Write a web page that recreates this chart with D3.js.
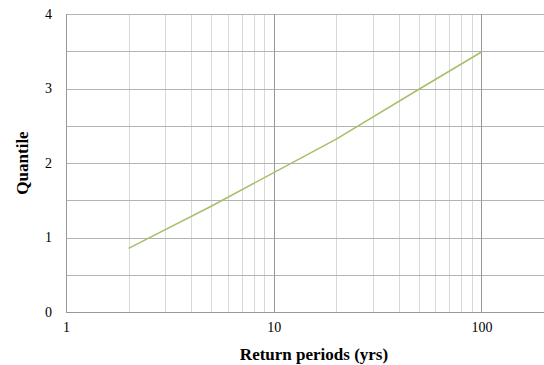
<!DOCTYPE html>
<html>
<head>
<meta charset="utf-8">
<script src="https://cdn.jsdelivr.net/npm/d3@7"></script>
<style>
  body { margin: 0; background: #fff; }
  svg text { font-family: "Times New Roman", "Liberation Serif", "DejaVu Serif", serif; fill: #000; }
</style>
</head>
<body>
<div id="container"></div>
<script>
const periods = [2, 5, 10, 20, 50, 100];
const quantiles = [0.855, 1.42, 1.87, 2.32, 2.99, 3.49];
const xTicks = [1, 10, 100];
const yTicks = [0, 1, 2, 3, 4];

const w = 544, h = 365;
const margin = {top: 14, left: 66, bottom: 53, right: 0};
const graphWidth = w - margin.left - margin.right;
const graphHeight = h - margin.top - margin.bottom;
const serif = '"Times New Roman", "Liberation Serif", "DejaVu Serif", serif';

const svg = d3.select("#container").append("svg").attr("width", w).attr("height", h);
const graph = svg.append("g").attr("transform", `translate(${margin.left}, ${margin.top})`);

const xScale = d3.scaleLog().domain([1, 200]).range([0, graphWidth]);
const yScale = d3.scaleLinear().domain([0, 4]).range([graphHeight, 0]);

// minor vertical grid (2..9, 20..90)
const minorX = [];
[1, 10].forEach(dec => { for (let k = 2; k <= 9; k++) minorX.push(k * dec); });
graph.selectAll(".vminor").data(minorX).enter().append("line")
  .attr("x1", d => Math.round(xScale(d)) + 0.5).attr("x2", d => Math.round(xScale(d)) + 0.5)
  .attr("y1", 0).attr("y2", graphHeight)
  .attr("stroke", "#d9d9d9").attr("stroke-width", 1);

// horizontal grid at every 0.5
const hLines = d3.range(0.5, 4.01, 0.5);
graph.selectAll(".hgrid").data(hLines).enter().append("line")
  .attr("x1", 0).attr("x2", graphWidth)
  .attr("y1", d => Math.round(yScale(d)) + 0.5).attr("y2", d => Math.round(yScale(d)) + 0.5)
  .attr("stroke", "#b3b3b3").attr("stroke-width", 1);

// major vertical grid at decades
graph.selectAll(".vmajor").data([10, 100]).enter().append("line")
  .attr("x1", d => Math.round(xScale(d)) + 0.5).attr("x2", d => Math.round(xScale(d)) + 0.5)
  .attr("y1", 0).attr("y2", graphHeight)
  .attr("stroke", "#999999").attr("stroke-width", 1);

// axis lines
graph.append("line").attr("x1", 0.5).attr("x2", 0.5).attr("y1", 0).attr("y2", graphHeight)
  .attr("stroke", "#999999");
graph.append("line").attr("x1", 0).attr("x2", graphWidth)
  .attr("y1", graphHeight + 0.5).attr("y2", graphHeight + 0.5).attr("stroke", "#999999");

// tick labels
const xAxis = d3.axisBottom(xScale).tickValues(xTicks).tickFormat(d3.format("d")).tickSize(0).tickPadding(10);
const xAxisGroup = graph.append("g").attr("transform", `translate(0, ${graphHeight})`).call(xAxis)
  .attr("font-family", serif);
xAxisGroup.select(".domain").remove();
xAxisGroup.selectAll("text").style("font-size", "14px").style("font-family", serif);

const yAxis = d3.axisLeft(yScale).tickValues(yTicks).tickFormat(d3.format("d")).tickSize(0).tickPadding(14);
const yAxisGroup = graph.append("g").call(yAxis).attr("font-family", serif);
yAxisGroup.select(".domain").remove();
yAxisGroup.selectAll("text").style("font-size", "14px").style("font-family", serif);

// series line
const line = d3.line().x((d, i) => xScale(periods[i])).y(d => yScale(d));
graph.append("path").datum(quantiles)
  .attr("d", line).attr("fill", "none")
  .attr("stroke", "#a6bf6a").attr("stroke-width", 1.5);

// axis titles
svg.append("text").attr("x", 314).attr("y", 360)
  .attr("text-anchor", "middle").style("font-size", "17px").style("font-weight", "bold")
  .style("font-family", serif)
  .text("Return periods (yrs)");
svg.append("text").attr("transform", `translate(28, ${margin.top + graphHeight / 2}) rotate(-90)`)
  .attr("text-anchor", "middle").style("font-size", "17px").style("font-weight", "bold")
  .style("font-family", serif)
  .text("Quantile");
</script>
</body>
</html>
